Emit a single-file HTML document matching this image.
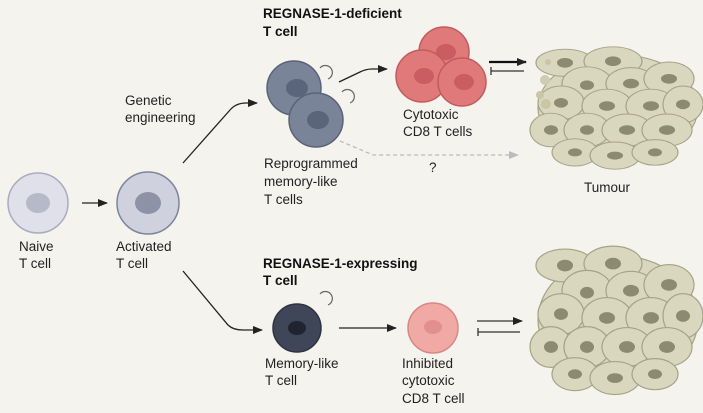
<!DOCTYPE html>
<html><head><meta charset="utf-8"><style>
html,body{margin:0;padding:0;background:#f4f3ee;}
svg{display:block;font-family:"Liberation Sans",sans-serif;}
.t{font-size:13.5px;fill:#222;}
.b{font-size:13.5px;font-weight:bold;fill:#111;}
.tc{fill:#d9d7bd;stroke:#a5a386;stroke-width:1.2;}
.tn{fill:#8c8a70;}
</style></head><body>
<svg width="703" height="413" viewBox="0 0 703 413" xmlns="http://www.w3.org/2000/svg">
<defs>
<marker id="ah" markerWidth="10" markerHeight="8" refX="9" refY="4" orient="auto" markerUnits="userSpaceOnUse"><path d="M0,0 L10,4 L0,8 Z" fill="#222"/></marker>
<marker id="ahg" markerWidth="10" markerHeight="8" refX="9" refY="4" orient="auto" markerUnits="userSpaceOnUse"><path d="M0,0 L10,4 L0,8 Z" fill="#bbb"/></marker>
<g id="tum">
<ellipse cx="85" cy="72" rx="80" ry="66" fill="#d9d7bd" stroke="#a5a386" stroke-width="1.2"/>
<ellipse class="tc" cx="32" cy="16" rx="29" ry="17"/>
<ellipse class="tc" cx="80" cy="14" rx="29" ry="18"/>
<ellipse class="tc" cx="54" cy="42" rx="25" ry="21"/>
<ellipse class="tc" cx="98" cy="42" rx="25" ry="20"/>
<ellipse class="tc" cx="136" cy="36" rx="25" ry="21"/>
<ellipse class="tc" cx="28" cy="66" rx="23" ry="21"/>
<ellipse class="tc" cx="74" cy="70" rx="25" ry="21"/>
<ellipse class="tc" cx="118" cy="70" rx="25" ry="21"/>
<ellipse class="tc" cx="150" cy="68" rx="20" ry="23"/>
<ellipse class="tc" cx="18" cy="100" rx="21" ry="21"/>
<ellipse class="tc" cx="54" cy="100" rx="23" ry="21"/>
<ellipse class="tc" cx="94" cy="100" rx="25" ry="20"/>
<ellipse class="tc" cx="134" cy="100" rx="25" ry="20"/>
<ellipse class="tc" cx="42" cy="128" rx="23" ry="17"/>
<ellipse class="tc" cx="82" cy="132" rx="25" ry="17"/>
<ellipse class="tc" cx="122" cy="128" rx="23" ry="16"/>
<ellipse class="tn" cx="32" cy="16" rx="8" ry="6"/><ellipse class="tn" cx="80" cy="14" rx="8" ry="6"/>
<ellipse class="tn" cx="54" cy="44" rx="7" ry="6"/><ellipse class="tn" cx="98" cy="42" rx="8" ry="6"/>
<ellipse class="tn" cx="136" cy="36" rx="8" ry="6"/><ellipse class="tn" cx="28" cy="66" rx="7" ry="6"/>
<ellipse class="tn" cx="74" cy="70" rx="8" ry="6"/><ellipse class="tn" cx="118" cy="70" rx="8" ry="6"/>
<ellipse class="tn" cx="150" cy="68" rx="7" ry="6"/><ellipse class="tn" cx="18" cy="100" rx="7" ry="6"/>
<ellipse class="tn" cx="54" cy="100" rx="7" ry="6"/><ellipse class="tn" cx="94" cy="100" rx="8" ry="6"/>
<ellipse class="tn" cx="134" cy="100" rx="8" ry="6"/><ellipse class="tn" cx="42" cy="128" rx="7" ry="5"/>
<ellipse class="tn" cx="82" cy="132" rx="8" ry="5"/><ellipse class="tn" cx="122" cy="128" rx="7" ry="5"/>
</g>
</defs>

<!-- Naive -->
<circle cx="38" cy="203" r="30" fill="#dfe0ea" stroke="#a9acc0" stroke-width="1.5"/>
<ellipse cx="38" cy="203" rx="12" ry="10" fill="#b6b9c8"/>
<text class="t" x="19" y="251">Naive</text><text class="t" x="19" y="268">T cell</text>
<line x1="82" y1="203" x2="107" y2="203" stroke="#222" stroke-width="1.3" marker-end="url(#ah)"/>
<!-- Activated -->
<circle cx="148" cy="203" r="31" fill="#cfd2de" stroke="#7f8499" stroke-width="1.5"/>
<ellipse cx="148" cy="203" rx="13" ry="11" fill="#8d92a6"/>
<text class="t" x="116" y="251">Activated</text><text class="t" x="116" y="268">T cell</text>
<text class="t" x="125" y="105">Genetic</text><text class="t" x="125" y="122">engineering</text>
<path d="M183,163 L230,110 Q236,103 246,103 L257,103" fill="none" stroke="#222" stroke-width="1.3" marker-end="url(#ah)"/>
<path d="M183,271 L228,325 Q233,330 243,330 L262,330" fill="none" stroke="#222" stroke-width="1.3" marker-end="url(#ah)"/>

<!-- top -->
<text class="b" x="263" y="18">REGNASE-1-deficient</text><text class="b" x="263" y="36">T cell</text>
<circle cx="294" cy="88" r="27" fill="#7a8499" stroke="#5a6378" stroke-width="1.5"/>
<ellipse cx="297" cy="88" rx="11" ry="9" fill="#5a647a"/>
<circle cx="316" cy="120" r="27" fill="#7a8499" stroke="#5a6378" stroke-width="1.5"/>
<ellipse cx="318" cy="120" rx="11" ry="9" fill="#5a647a"/>
<path d="M320,68 A7,7 0 1 1 328,79" fill="none" stroke="#666" stroke-width="1.2"/>
<path d="M342,92 A7,7 0 1 1 350,103" fill="none" stroke="#666" stroke-width="1.2"/>
<path d="M339,82 L360,72 Q366,69 372,69 L387,69" fill="none" stroke="#222" stroke-width="1.3" marker-end="url(#ah)"/>
<circle cx="444" cy="52" r="25" fill="#e07a7a" stroke="#c25c5c" stroke-width="1.5"/>
<ellipse cx="446" cy="52" rx="10" ry="8" fill="#c95d62"/>
<circle cx="422" cy="76" r="26" fill="#e07a7a" stroke="#c25c5c" stroke-width="1.5"/>
<ellipse cx="424" cy="76" rx="10" ry="8" fill="#c95d62"/>
<circle cx="462" cy="82" r="24" fill="#e07a7a" stroke="#c25c5c" stroke-width="1.5"/>
<ellipse cx="464" cy="82" rx="10" ry="8" fill="#c95d62"/>
<text class="t" x="403" y="119">Cytotoxic</text><text class="t" x="403" y="136">CD8 T cells</text>
<line x1="489" y1="62" x2="526" y2="62" stroke="#111" stroke-width="2.2" marker-end="url(#ah)"/>
<line x1="491" y1="71" x2="524" y2="71" stroke="#333" stroke-width="1.2"/>
<line x1="491" y1="67" x2="491" y2="75" stroke="#333" stroke-width="1.3"/>
<path d="M340,141 L373,155 L518,155" fill="none" stroke="#bbb" stroke-width="1.3" stroke-dasharray="4,3" marker-end="url(#ahg)"/>
<text class="t" x="429" y="172">?</text>
<text class="t" x="264" y="168">Reprogrammed</text><text class="t" x="264" y="186">memory-like</text><text class="t" x="264" y="204">T cells</text>
<g transform="translate(533,50) scale(1,0.8)"><use href="#tum"/></g>
<circle cx="548" cy="62" r="3" fill="#c8c6a6"/><circle cx="545" cy="80" r="5" fill="#cfcdb0"/><circle cx="540" cy="95" r="4" fill="#c8c6a6"/><circle cx="546" cy="104" r="5" fill="#c8c6a6"/>
<text class="t" x="584" y="192">Tumour</text>

<!-- bottom -->
<text class="b" x="263" y="268">REGNASE-1-expressing</text><text class="b" x="263" y="285">T cell</text>
<circle cx="297" cy="328" r="24" fill="#3f4658" stroke="#2d3343" stroke-width="1.5"/>
<ellipse cx="297" cy="328" rx="9" ry="7" fill="#1f2430"/>
<path d="M320,294 A7,7 0 1 1 328,305" fill="none" stroke="#666" stroke-width="1.2"/>
<line x1="339" y1="328" x2="396" y2="328" stroke="#222" stroke-width="1.3" marker-end="url(#ah)"/>
<circle cx="433" cy="328" r="25" fill="#f1a9a5" stroke="#d88884" stroke-width="1.5"/>
<ellipse cx="433" cy="327" rx="9" ry="7" fill="#e0908f"/>
<text class="t" x="265" y="368">Memory-like</text><text class="t" x="265" y="385">T cell</text>
<text class="t" x="402" y="368">Inhibited</text><text class="t" x="402" y="385">cytotoxic</text><text class="t" x="402" y="403">CD8 T cell</text>
<line x1="477" y1="321" x2="522" y2="321" stroke="#333" stroke-width="1.2" marker-end="url(#ah)"/>
<line x1="478" y1="332" x2="520" y2="332" stroke="#333" stroke-width="1.2"/>
<line x1="478" y1="328" x2="478" y2="336" stroke="#333" stroke-width="1.3"/>
<g transform="translate(533,250) scale(1,0.97)"><use href="#tum"/></g>
</svg>
</body></html>
